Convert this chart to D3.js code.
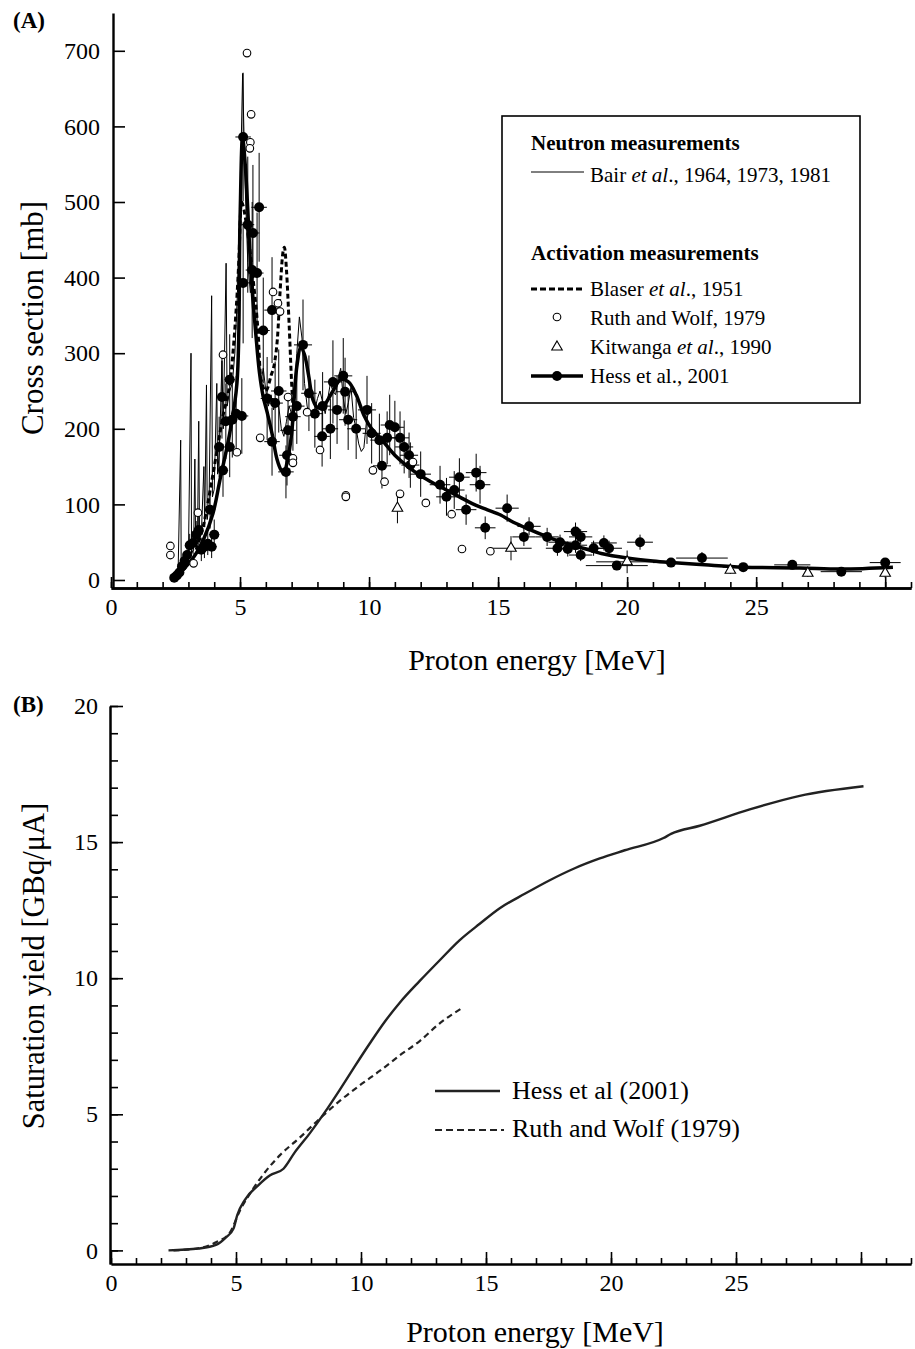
<!DOCTYPE html>
<html>
<head>
<meta charset="utf-8">
<script src="https://cdn.jsdelivr.net/npm/d3@7"></script>
<style>
  body { margin: 0; background: #fff; }
  text { font-family: "Liberation Serif", "Times New Roman", serif; fill: #000; }
</style>
</head>
<body>
<div id="chart"></div>
<script>
// ---- data: panel A, cross section [mb] vs proton energy [MeV]
const bairE  = [2.3, 2.5, 2.6, 2.7, 2.72, 2.8, 2.9, 3.0, 3.1, 3.12, 3.2, 3.25, 3.28, 3.35, 3.4, 3.43, 3.5, 3.6, 3.63, 3.7, 3.73, 3.8, 3.9, 3.93, 4.0, 4.1, 4.13, 4.2, 4.3, 4.35, 4.46, 4.5, 4.6, 4.7, 4.8, 4.9, 5.0, 5.1, 5.2, 5.3, 5.4, 5.5, 5.6, 5.7, 5.8, 5.9, 6.0, 6.1, 6.2, 6.3, 6.4, 6.5, 6.6, 6.7, 6.8, 6.9, 7.0, 7.1, 7.2, 7.3, 7.4, 7.5, 7.6, 7.7, 7.8, 7.9, 8.0, 8.1, 8.2, 8.3, 8.4, 8.5, 8.6, 8.7, 8.8, 8.9, 9.0, 9.1, 9.2, 9.3, 9.4, 9.5, 9.6, 9.7, 9.8, 9.9, 10.0];
const bairXS = [2, 5, 10, 185, 15, 20, 25, 30, 300, 35, 40, 160, 45, 50, 210, 55, 60, 150, 70, 258, 80, 100, 376, 110, 120, 260, 140, 170, 290, 200, 419, 230, 250, 260, 300, 380, 500, 670, 520, 420, 380, 400, 330, 300, 260, 280, 250, 230, 245, 225, 240, 230, 200, 190, 210, 230, 220, 250, 300, 348, 320, 260, 230, 220, 215, 225, 240, 250, 235, 220, 240, 260, 250, 245, 265, 280, 240, 220, 235, 255, 215, 200, 180, 170, 175, 210, 225];

const blaserE  = [3.3, 3.6, 3.9, 4.3, 4.7, 4.95, 5.05, 5.25, 5.5, 5.7, 5.8, 6.0, 6.2, 6.35, 6.45, 6.55, 6.65, 6.72, 6.8, 6.9, 7.0, 7.05];
const blaserXS = [40, 75, 130, 210, 290, 420, 500, 470, 400, 327, 268, 250, 270, 290, 320, 380, 430, 440, 410, 340, 260, 230];

const ruthE  = [2.3, 2.3, 3.2, 3.37, 4.34, 4.88, 5.27, 5.43, 5.4, 5.38, 5.78, 6.28, 6.47, 6.55, 6.86, 7.05, 7.05, 7.6, 8.1, 9.1, 9.1, 10.15, 10.6, 11.2, 11.7, 12.2, 13.2, 13.6, 14.7];
const ruthXS = [45, 33, 22, 89, 298, 169, 697, 616, 579, 571, 188, 381, 366, 355, 242, 161, 155, 222, 172, 112, 110, 145, 130, 114, 156, 102, 87, 41, 38];

const kitE   = [11.1, 15.5, 20.0, 24.0, 27.0, 30.0];
const kitXS  = [95, 42, 24, 13, 9, 9];
const kitDE  = [0, 0.8, 1.2, 0, 0, 0];
const kitDXS = [20, 16, 15, 5, 5, 6];

const hessE   = [2.45, 2.55, 2.65, 2.75, 2.85, 2.95, 3.05, 3.18, 3.3, 3.4, 3.5, 3.62, 3.75, 3.84, 3.9, 4.0, 4.19, 4.3, 4.34, 4.45, 4.6, 4.6, 4.7, 4.85, 5.07, 5.12, 5.12, 5.3, 5.47, 5.5, 5.66, 5.74, 5.9, 6.05, 6.24, 6.24, 6.36, 6.5, 6.78, 6.82, 6.86, 7.05, 7.2, 7.44, 7.67, 7.9, 8.18, 8.2, 8.5, 8.6, 8.76, 9.0, 9.07, 9.19, 9.5, 9.92, 10.1, 10.4, 10.5, 10.7, 10.8, 11.0, 11.2, 11.36, 11.55, 11.6, 12.0, 12.75, 13.0, 13.3, 13.5, 13.76, 14.15, 14.3, 14.5, 15.35, 16.0, 16.2, 16.9, 17.3, 17.4, 17.7, 18.0, 18.0, 18.2, 18.2, 18.7, 19.1, 19.3, 19.6, 20.5, 21.7, 22.9, 24.5, 26.4, 28.3, 30.0];
const hessXS  = [3, 6, 10, 18, 25, 33, 46, 49, 60, 66, 40, 44, 48, 93, 44, 60, 176, 242, 145, 210, 176, 265, 212, 220, 217, 586, 393, 470, 410, 459, 406, 493, 330, 240, 357, 183, 234, 250, 143, 165, 198, 216, 230, 311, 247, 220, 190, 230, 200, 262, 225, 270, 249, 212, 200, 225, 194, 185, 151, 188, 205, 202, 188, 176, 165, 152, 140, 126, 110, 119, 136, 93, 142, 126, 69, 95, 57, 71, 57, 42, 50, 41, 64, 46, 57, 33, 42, 49, 42, 19, 50, 23, 29, 17, 20, 11, 23];
const hessDE  = [0.1, 0.1, 0.1, 0.1, 0.1, 0.1, 0.15, 0.15, 0.15, 0.15, 0.15, 0.15, 0.15, 0.2, 0.2, 0.2, 0.2, 0.2, 0.2, 0.2, 0.2, 0.2, 0.2, 0.2, 0.25, 0.3, 0.25, 0.25, 0.25, 0.25, 0.25, 0.3, 0.25, 0.25, 0.3, 0.3, 0.3, 0.3, 0.3, 0.3, 0.3, 0.3, 0.3, 0.35, 0.3, 0.3, 0.3, 0.3, 0.3, 0.35, 0.35, 0.35, 0.35, 0.35, 0.35, 0.35, 0.35, 0.35, 0.35, 0.35, 0.35, 0.35, 0.35, 0.35, 0.35, 0.35, 0.4, 0.4, 0.4, 0.4, 0.4, 0.4, 0.4, 0.4, 0.4, 0.45, 0.45, 0.45, 0.45, 0.45, 0.45, 0.45, 0.45, 0.45, 0.45, 0.45, 0.45, 0.5, 0.5, 1.2, 0.5, 0.7, 1.0, 0.8, 0.7, 0.8, 0.6];
const hessDXS = [2, 3, 5, 8, 10, 12, 15, 15, 18, 20, 15, 15, 15, 25, 15, 20, 40, 55, 35, 50, 40, 60, 50, 50, 50, 85, 80, 90, 90, 90, 80, 72, 70, 55, 70, 45, 55, 55, 35, 40, 45, 45, 50, 60, 50, 45, 40, 45, 40, 55, 45, 50, 45, 40, 40, 45, 40, 35, 30, 35, 40, 35, 35, 35, 30, 30, 30, 25, 25, 25, 25, 20, 25, 25, 15, 18, 12, 12, 12, 10, 10, 10, 12, 10, 10, 8, 10, 10, 10, 6, 10, 6, 8, 5, 5, 4, 6];

const fitE  = [2.4, 2.67, 3.2, 3.6, 3.95, 4.22, 4.6, 4.88, 5.0, 5.1, 5.2, 5.3, 5.4, 5.5, 5.6, 5.75, 5.9, 6.05, 6.25, 6.43, 6.6, 6.7, 6.85, 7.0, 7.2, 7.36, 7.5, 7.65, 7.83, 8.0, 8.2, 8.6, 8.9, 9.2, 9.5, 9.8, 10.1, 10.5, 11.0, 11.5, 12.0, 12.5, 13.0, 13.5, 14.0, 14.5, 15.1, 15.5, 16.0, 16.7, 17.3, 18.3, 19.0, 20.0, 21.0, 21.7, 23.0, 24.5, 26.7, 28.3, 30.3];
const fitXS = [0, 9, 30, 55, 88, 132, 194, 260, 476, 585, 550, 490, 420, 370, 330, 275, 242, 222, 192, 160, 145, 143, 160, 194, 282, 308, 298, 272, 238, 228, 229, 250, 265, 262, 245, 218, 200, 185, 165, 150, 138, 128, 119, 110, 101, 94, 86, 78, 70, 60, 52, 42, 35, 29, 25, 23, 20, 17, 16, 14.5, 17];

// ---- data: panel B, saturation yield [GBq/uA]
const hessYE = [2.3, 3.5, 4.2, 4.6, 4.9, 5.05, 5.35, 5.9, 6.35, 6.9, 7.35, 7.95, 8.55, 9.15, 9.75, 10.35, 10.95, 11.55, 12.35, 13.15, 13.95, 14.75, 15.55, 16.55, 17.55, 18.55, 19.55, 20.55, 22.1, 22.4, 23.55, 25.55, 27.55, 30.1];
const hessY  = [0, 0.07, 0.2, 0.48, 0.8, 1.3, 1.85, 2.4, 2.75, 3.0, 3.6, 4.3, 5.07, 5.9, 6.76, 7.6, 8.4, 9.1, 9.9, 10.66, 11.4, 12.0, 12.57, 13.1, 13.6, 14.04, 14.4, 14.7, 15.15, 15.3, 15.6, 16.2, 16.7, 17.05];
const ruthYE = [2.5, 3.5, 4.2, 4.76, 5.16, 5.64, 6.16, 6.76, 7.56, 8.36, 9.16, 9.96, 10.76, 11.56, 12.36, 13.16, 14.04];
const ruthY  = [0, 0.08, 0.3, 0.66, 1.47, 2.2, 2.87, 3.5, 4.15, 4.85, 5.5, 6.07, 6.6, 7.17, 7.7, 8.35, 8.9];

const xTickLabels = [0, 5, 10, 15, 20, 25];
const yTicksA = [0, 100, 200, 300, 400, 500, 600, 700];
const yTicksB = [0, 5, 10, 15, 20];

const W = 915, H = 1349;
const svg = d3.select("#chart").append("svg").attr("width", W).attr("height", H);

const xA = d3.scaleLinear().domain([0, 31]).range([111, 911]);
const yA = d3.scaleLinear().domain([-10.6, 750]).range([588, 13]);
const xB = d3.scaleLinear().domain([0, 32]).range([111, 911]);
const yB = d3.scaleLinear().domain([-0.5, 20]).range([1264, 706]);

function styleAxis(g, w) {
  g.select(".domain").attr("stroke", "#000").attr("stroke-width", w);
  g.selectAll(".tick line").attr("stroke", "#000").attr("stroke-width", 1.6);
  g.selectAll(".tick text").attr("font-family", "Liberation Serif").attr("font-size", 24).attr("fill", "#000");
}

// ---------- Panel A axes
const gxA = svg.append("g").attr("transform", `translate(0,${yA.range()[0]})`);
gxA.append("g").call(d3.axisBottom(xA).tickValues(d3.range(0, 32)).tickSize(-6).tickSizeOuter(0).tickFormat(""))
  .call(g => styleAxis(g, 2.4));
gxA.append("g").call(d3.axisBottom(xA).tickValues(d3.range(0, 31, 5)).tickSize(-11).tickSizeOuter(0).tickPadding(10)
    .tickFormat(d => xTickLabels.includes(d) ? d : ""))
  .call(g => styleAxis(g, 2.4));

const gyA = svg.append("g").attr("transform", `translate(113,0)`);
gyA.call(d3.axisLeft(yA).tickValues(yTicksA).tickSize(-12).tickSizeOuter(0).tickPadding(13))
  .call(g => styleAxis(g, 2.4));

svg.append("text").attr("x", 13).attr("y", 28).attr("font-size", 23).attr("font-weight", "bold").text("(A)");
svg.append("text").attr("transform", "translate(43,318) rotate(-90)").attr("text-anchor", "middle")
  .attr("font-size", 31).text("Cross section [mb]");
svg.append("text").attr("x", 537).attr("y", 670).attr("text-anchor", "middle")
  .attr("font-size", 30).text("Proton energy [MeV]");

// ---------- Panel A marks
const plotA = svg.append("g");

plotA.append("path").datum(bairE.map((e, i) => [e, bairXS[i]]))
  .attr("fill", "none").attr("stroke", "#000").attr("stroke-width", 1)
  .attr("d", d3.line().x(d => xA(d[0])).y(d => yA(d[1])));

plotA.append("path").datum(blaserE.map((e, i) => [e, blaserXS[i]]))
  .attr("fill", "none").attr("stroke", "#000").attr("stroke-width", 3).attr("stroke-dasharray", "5,3")
  .attr("d", d3.line().curve(d3.curveMonotoneX).x(d => xA(d[0])).y(d => yA(d[1])));

const hess = hessE.map((e, i) => ({e, s: hessXS[i], de: hessDE[i], ds: hessDXS[i]}));
const errA = plotA.append("g").attr("stroke", "#000").attr("stroke-width", 1);
errA.selectAll("line.v").data(hess).join("line").attr("class", "v")
  .attr("x1", d => xA(d.e)).attr("x2", d => xA(d.e))
  .attr("y1", d => yA(d.s - d.ds)).attr("y2", d => yA(d.s + d.ds));
errA.selectAll("line.h").data(hess).join("line").attr("class", "h")
  .attr("x1", d => xA(d.e - d.de)).attr("x2", d => xA(d.e + d.de))
  .attr("y1", d => yA(d.s)).attr("y2", d => yA(d.s));

plotA.append("path").datum(fitE.map((e, i) => [e, fitXS[i]]))
  .attr("fill", "none").attr("stroke", "#000").attr("stroke-width", 3.5)
  .attr("d", d3.line().curve(d3.curveCatmullRom).x(d => xA(d[0])).y(d => yA(d[1])));

plotA.append("g").selectAll("circle").data(hess).join("circle")
  .attr("cx", d => xA(d.e)).attr("cy", d => yA(d.s)).attr("r", 5).attr("fill", "#000");

const kit = kitE.map((e, i) => ({e, s: kitXS[i], de: kitDE[i], ds: kitDXS[i]}));
const errK = plotA.append("g").attr("stroke", "#000").attr("stroke-width", 1);
errK.selectAll("line.v").data(kit).join("line").attr("class", "v")
  .attr("x1", d => xA(d.e)).attr("x2", d => xA(d.e))
  .attr("y1", d => yA(d.s - d.ds)).attr("y2", d => yA(d.s + d.ds));
errK.selectAll("line.h").data(kit.filter(d => d.de > 0)).join("line").attr("class", "h")
  .attr("x1", d => xA(d.e - d.de)).attr("x2", d => xA(d.e + d.de))
  .attr("y1", d => yA(d.s)).attr("y2", d => yA(d.s));
const tri = d3.symbol().type(d3.symbolTriangle).size(48);
plotA.append("g").selectAll("path").data(kit).join("path")
  .attr("transform", d => `translate(${xA(d.e)},${yA(d.s)})`).attr("d", tri)
  .attr("fill", "#fff").attr("stroke", "#000").attr("stroke-width", 1.1);

plotA.append("g").selectAll("circle").data(ruthE.map((e, i) => [e, ruthXS[i]])).join("circle")
  .attr("cx", d => xA(d[0])).attr("cy", d => yA(d[1])).attr("r", 3.8)
  .attr("fill", "#fff").attr("stroke", "#000").attr("stroke-width", 1.1);

// ---------- Legend A
const lg = svg.append("g").attr("font-size", 21);
lg.append("rect").attr("x", 502).attr("y", 116).attr("width", 358).attr("height", 287)
  .attr("fill", "#fff").attr("stroke", "#000").attr("stroke-width", 1.6);
lg.append("text").attr("x", 531).attr("y", 150).attr("font-weight", "bold").text("Neutron measurements");
lg.append("line").attr("x1", 531).attr("x2", 584).attr("y1", 172).attr("y2", 172).attr("stroke", "#000").attr("stroke-width", 1);
lg.append("text").attr("x", 590).attr("y", 182)
  .call(t => { t.append("tspan").text("Bair "); t.append("tspan").attr("font-style", "italic").text("et al"); t.append("tspan").text("., 1964, 1973, 1981"); });
lg.append("text").attr("x", 531).attr("y", 260).attr("font-weight", "bold").text("Activation measurements");
lg.append("line").attr("x1", 531).attr("x2", 583).attr("y1", 289).attr("y2", 289).attr("stroke", "#000")
  .attr("stroke-width", 3).attr("stroke-dasharray", "6,3");
lg.append("text").attr("x", 590).attr("y", 296)
  .call(t => { t.append("tspan").text("Blaser "); t.append("tspan").attr("font-style", "italic").text("et al"); t.append("tspan").text("., 1951"); });
lg.append("circle").attr("cx", 557).attr("cy", 317).attr("r", 3.8).attr("fill", "#fff").attr("stroke", "#000").attr("stroke-width", 1.1);
lg.append("text").attr("x", 590).attr("y", 325).text("Ruth and Wolf, 1979");
lg.append("path").attr("transform", "translate(557,347)").attr("d", tri).attr("fill", "#fff").attr("stroke", "#000").attr("stroke-width", 1.1);
lg.append("text").attr("x", 590).attr("y", 354)
  .call(t => { t.append("tspan").text("Kitwanga "); t.append("tspan").attr("font-style", "italic").text("et al"); t.append("tspan").text("., 1990"); });
lg.append("line").attr("x1", 531).attr("x2", 583).attr("y1", 376).attr("y2", 376).attr("stroke", "#000").attr("stroke-width", 3.5);
lg.append("circle").attr("cx", 557).attr("cy", 376).attr("r", 5).attr("fill", "#000");
lg.append("text").attr("x", 590).attr("y", 383).text("Hess et al., 2001");

// ---------- Panel B axes
const gxB = svg.append("g").attr("transform", `translate(0,${yB.range()[0]})`);
gxB.append("g").call(d3.axisBottom(xB).tickValues(d3.range(0, 33)).tickSize(-6).tickSizeOuter(0).tickFormat(""))
  .call(g => styleAxis(g, 2));
gxB.append("g").call(d3.axisBottom(xB).tickValues(d3.range(0, 31, 5)).tickSize(-12).tickSizeOuter(0).tickPadding(10)
    .tickFormat(d => xTickLabels.includes(d) ? d : ""))
  .call(g => styleAxis(g, 2));

const gyB = svg.append("g").attr("transform", `translate(110,0)`);
gyB.append("g").call(d3.axisLeft(yB).tickValues(d3.range(0, 21)).tickSize(-8).tickSizeOuter(0).tickFormat(""))
  .call(g => styleAxis(g, 2));
gyB.append("g").call(d3.axisLeft(yB).tickValues(yTicksB).tickSize(-13).tickSizeOuter(0).tickPadding(12))
  .call(g => styleAxis(g, 2));

svg.append("text").attr("x", 13).attr("y", 712).attr("font-size", 23).attr("font-weight", "bold").text("(B)");
svg.append("text").attr("transform", "translate(44,966) rotate(-90)").attr("text-anchor", "middle")
  .attr("font-size", 30.5).text("Saturation yield [GBq/μA]");
svg.append("text").attr("x", 535).attr("y", 1342).attr("text-anchor", "middle")
  .attr("font-size", 30).text("Proton energy [MeV]");

// ---------- Panel B marks
const lineB = d3.line().curve(d3.curveMonotoneX).x(d => xB(d[0])).y(d => yB(d[1]));
svg.append("path").datum(ruthYE.map((e, i) => [e, ruthY[i]]))
  .attr("fill", "none").attr("stroke", "#222").attr("stroke-width", 2.2).attr("stroke-dasharray", "6,4").attr("d", lineB);
svg.append("path").datum(hessYE.map((e, i) => [e, hessY[i]]))
  .attr("fill", "none").attr("stroke", "#222").attr("stroke-width", 2.4).attr("d", lineB);

// Legend B
const lgB = svg.append("g").attr("font-size", 26);
lgB.append("line").attr("x1", 435).attr("x2", 500).attr("y1", 1091).attr("y2", 1091).attr("stroke", "#222").attr("stroke-width", 2.4);
lgB.append("text").attr("x", 512).attr("y", 1099).text("Hess et al (2001)");
lgB.append("line").attr("x1", 435).attr("x2", 504).attr("y1", 1130).attr("y2", 1130).attr("stroke", "#222").attr("stroke-width", 2)
  .attr("stroke-dasharray", "7,4");
lgB.append("text").attr("x", 512).attr("y", 1137).text("Ruth and Wolf (1979)");
</script>
</body>
</html>
